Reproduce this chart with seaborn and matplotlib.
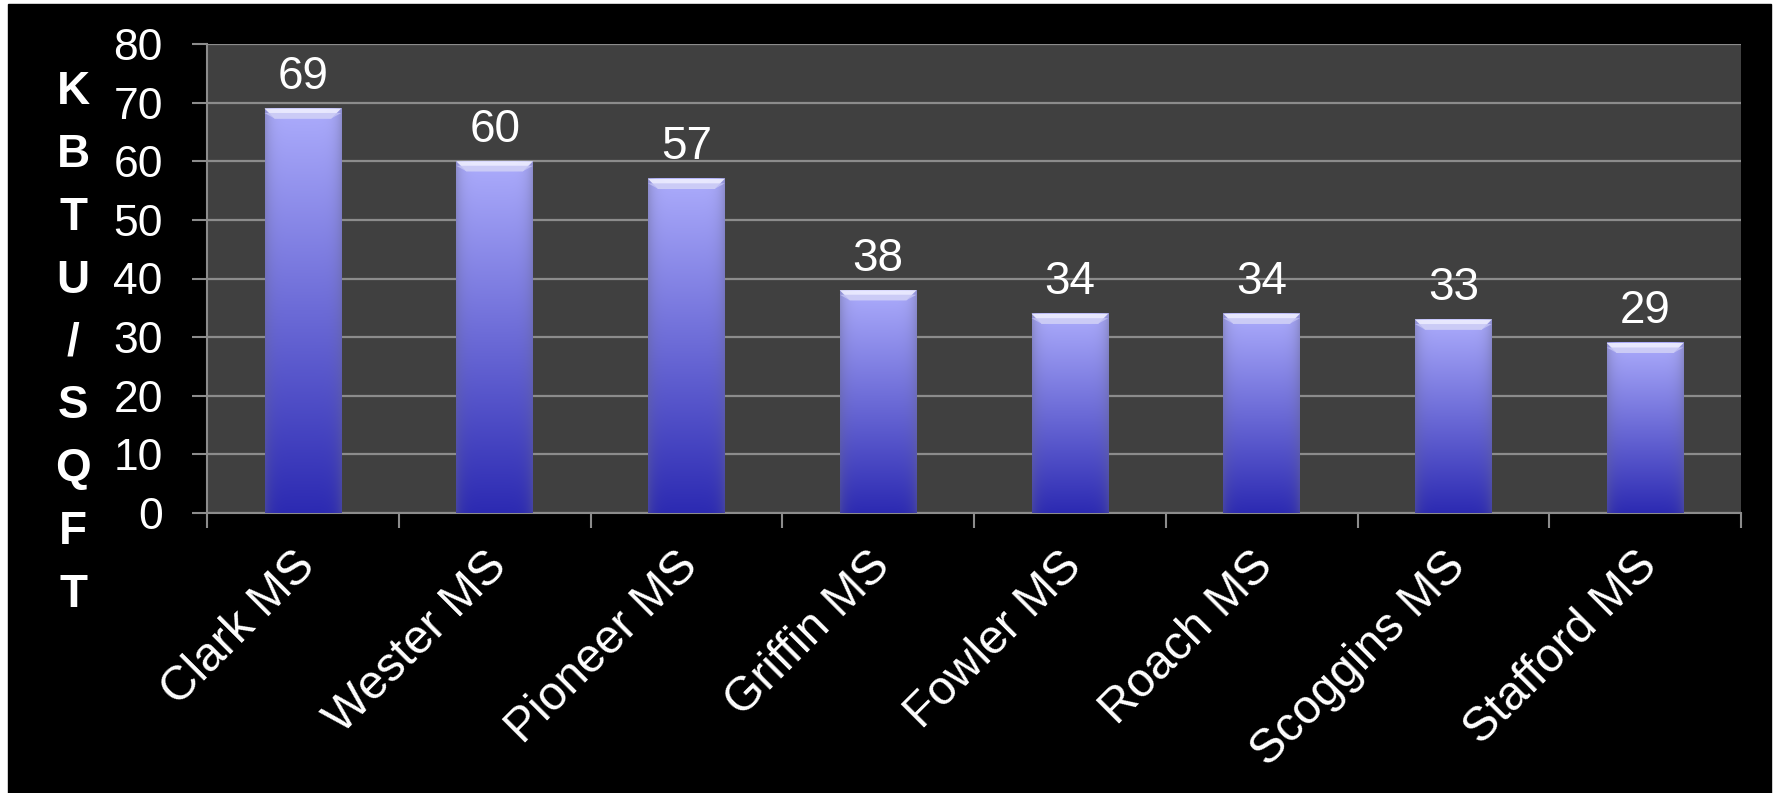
import numpy as np
import matplotlib.pyplot as plt
import matplotlib.transforms as mtransforms
import seaborn as sns
from matplotlib.patches import Polygon, Rectangle

schools = ['Clark MS', 'Wester MS', 'Pioneer MS', 'Griffin MS', 'Fowler MS',
           'Roach MS', 'Scoggins MS', 'Stafford MS']
kbtu = [69, 60, 57, 38, 34, 34, 33, 29]
y_ticks = [0, 10, 20, 30, 40, 50, 60, 70, 80]
y_letters = ['K', 'B', 'T', 'U', '/', 'S', 'Q', 'F', 'T']

sns.set_style('dark')
plt.rcParams['font.family'] = ['Liberation Sans', 'DejaVu Sans']

W, H = 1775, 793
fig = plt.figure(figsize=(W / 100, H / 100), dpi=100, facecolor='white')
# black slide background (thin white strip left/top/right)
fig.patches.append(Rectangle((8 / W, 0), (1771 - 8) / W, (H - 4) / H,
                             transform=fig.transFigure, color='black', zorder=-5))

ax = fig.add_axes([207 / W, 1 - 513 / H, (1741 - 207) / W, (513 - 44) / H])
ax.set_facecolor('#404040')
ax.set_axisbelow(True)

sns.barplot(x=schools, y=kbtu, width=0.4, color='#2c2ab2', ax=ax, zorder=2,
            linewidth=0, edgecolor='none')

# gradient fill for the bars
top_c = np.array([172, 172, 252]) / 255
bot_c = np.array([44, 42, 178]) / 255
t = np.linspace(1, 0, 200)[:, None, None]
col = bot_c + (top_c - bot_c) * t
s = np.linspace(-1, 1, 80)[None, :, None]
edge = np.abs(s) ** 6
grey = np.array([0.40, 0.40, 0.55])
img = col * (1 - 0.4 * edge) + grey * 0.4 * edge

xpx = 8 / (1741 - 207)
ypx = 80 / (513 - 44)
for p in ax.patches:
    x0, w, h = p.get_x(), p.get_width(), p.get_height()
    ax.imshow(img, extent=(x0, x0 + w, 0, h), aspect='auto', zorder=3,
              interpolation='bilinear')
    cx, cy = 10 * xpx, 10 * ypx
    ax.add_patch(Polygon([(x0, h), (x0 + w, h), (x0 + w - cx, h - cy), (x0 + cx, h - cy)],
                         closed=True, facecolor='#efefff', edgecolor='none',
                         alpha=0.9, zorder=4))
    ax.add_patch(Polygon([(x0, h - 0.45 * cy), (x0 + w, h - 0.45 * cy),
                          (x0 + w - cx, h - cy), (x0 + cx, h - cy)],
                         closed=True, facecolor='#c4c4f4', edgecolor='none',
                         alpha=0.8, zorder=4))

ax.bar_label(ax.containers[0], padding=7, fontsize=33, color='white')

ax.set_xlim(-0.5, len(schools) - 0.5)
ax.set_ylim(0, 80)
ax.set_yticks(y_ticks)
ax.yaxis.grid(True, color='#8c8c8c', lw=1.6)
ax.xaxis.grid(False)
ax.set_xlabel('')
ax.set_ylabel('')

ax.tick_params(axis='y', left=True, length=10.8, width=1.5, color='#8c8c8c',
               pad=21, labelsize=32, labelcolor='white')
ax.set_xticks(np.arange(-0.5, len(schools), 1), minor=True)
ax.tick_params(axis='x', which='minor', bottom=True, length=10.8, width=1.5,
               color='#8c8c8c')
ax.tick_params(axis='x', which='major', bottom=True, length=0, pad=22,
               labelsize=34.5, labelcolor='white')
shift = mtransforms.ScaledTranslation(-0.11, 0, fig.dpi_scale_trans)
for lbl in ax.get_xticklabels():
    lbl.set_rotation(45)
    lbl.set_ha('right')
    lbl.set_va('top')
    lbl.set_rotation_mode('anchor')
    lbl.set_transform(lbl.get_transform() + shift)

ax.spines[['top', 'right']].set_visible(False)
for side in ['left', 'bottom']:
    ax.spines[side].set_color('#8c8c8c')
    ax.spines[side].set_linewidth(1.5)

# stacked y axis title
for i, letter in enumerate(y_letters):
    fig.text(73 / W, 1 - (104 + i * 62.9) / H, letter, ha='center', va='baseline',
             fontsize=33, fontweight='bold', color='white')

fig.savefig('out.png', dpi=100, facecolor=fig.get_facecolor())
